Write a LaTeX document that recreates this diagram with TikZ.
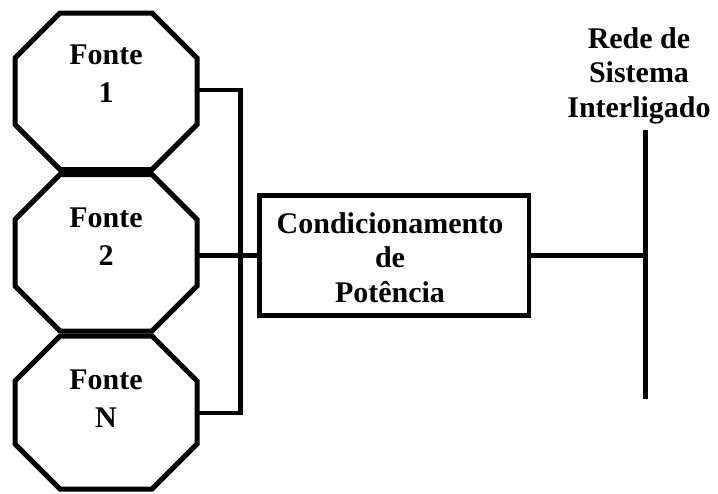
\documentclass[tikz,border=0pt]{standalone}
\usepackage{fontspec}
\setmainfont{Liberation Serif}
\begin{document}
\begin{tikzpicture}[x=1pt,y=-1pt,
  octo/.style={line width=5pt, line join=miter},
  wire/.style={line width=4.5pt},
  lbl/.style={font=\fontsize{30}{37.5}\selectfont\bfseries, align=center, inner sep=0pt, anchor=base},
  boxlbl/.style={font=\fontsize{30}{34.5}\selectfont\bfseries, align=center, inner sep=0pt, anchor=base}]
\useasboundingbox (0,0) rectangle (718,493);
% octagons
\foreach \t/\b in {13/169.5, 174.5/331, 336/489}{
  \draw[octo] (60,\t) -- (152,\t) -- (197,\t+45) -- (197,\b-45) -- (152,\b)
    -- (60,\b) -- (15,\b-45) -- (15,\t+45) -- cycle;
}
\node[lbl] (f1) at (106,102) {Fonte\\1};
\node[lbl] (f2) at (106,265) {Fonte\\2};
\node[lbl] (fN) at (106,427) {Fonte\\N};
% power conditioning box
\node[draw, line width=4.5pt, minimum width=269.5pt, minimum height=120pt, inner sep=0pt] (cond) at (394.25,255.5) {};
\node[boxlbl] (condtxt) at (390,302) {Condicionamento\\de\\Potência};
% grid label
\node[boxlbl] (rede) at (639,117) {Rede de\\Sistema\\Interligado};
% connection points
\coordinate (o1r) at (197,90);
\coordinate (o2r) at (197,255.5);
\coordinate (oNr) at (197,413);
\coordinate (b1) at (240.5,90);
\coordinate (bN) at (240.5,413);
\coordinate (rT) at (645,130);
\coordinate (rB) at (645,399);
\coordinate (rM) at (645,255.5);
% wires
\draw[wire, line join=miter] (o1r) -- (b1) -- (bN) -- (oNr);
\draw[wire] (o2r) -- (cond.west);
\draw[wire] (cond.east) -- (rM);
\draw[line width=5pt] (rT) -- (rB);
\end{tikzpicture}
\end{document}
